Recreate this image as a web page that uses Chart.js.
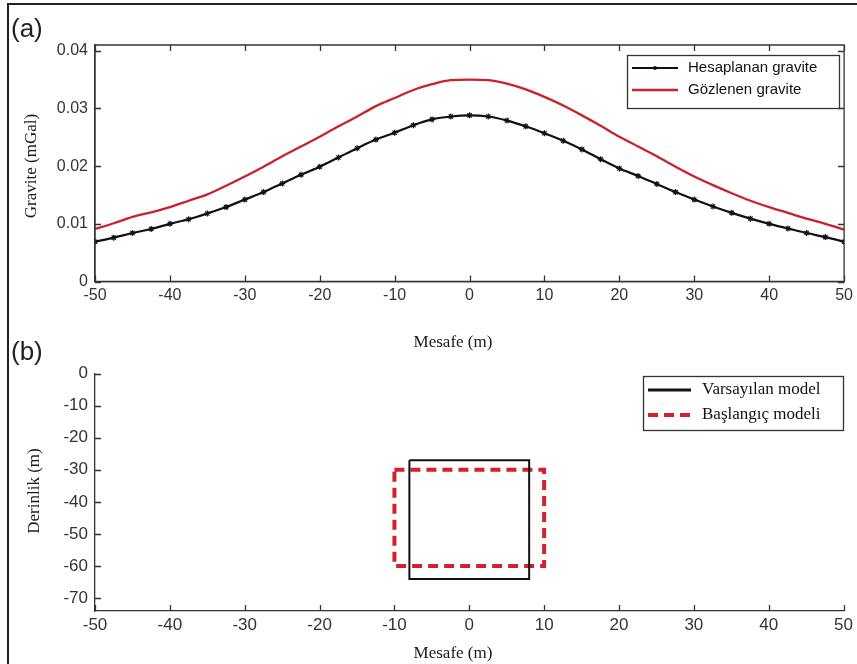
<!DOCTYPE html>
<html>
<head>
<meta charset="utf-8">
<script src="https://cdn.jsdelivr.net/npm/chart.js@4.4.1/dist/chart.umd.min.js"></script>
<style>
html, body { margin: 0; padding: 0; background: #fff; }
body { width: 857px; height: 664px; position: relative; overflow: hidden; }
#frame { position: absolute; left: 7px; top: 3px; width: 900px; height: 700px;
  border-top: 2px solid #222; border-left: 2px solid #222; }
.panel { position: absolute; left: 0; }
#wrapA { top: 0; width: 857px; height: 360px; }
#wrapB { top: 320px; width: 857px; height: 344px; }
.tag { position: absolute; left: 11px; font: 26px "Liberation Sans", Arial, sans-serif; color: #222; line-height: 30px; }
</style>
</head>
<body>
<div id="frame"></div>
<div class="panel" id="wrapA"><canvas id="chartA" width="857" height="360"></canvas></div>
<div class="panel" id="wrapB"><canvas id="chartB" width="857" height="344"></canvas></div>
<div class="tag" style="top:13px">(a)</div>
<div class="tag" style="top:336px">(b)</div>

<script>
// --- data (a): gravity profile ---
const distance = [-50, -47.5, -45, -42.5, -40, -37.5, -35, -32.5, -30, -27.5, -25,
  -22.5, -20, -17.5, -15, -12.5, -10, -7.5, -5, -2.5, 0, 2.5, 5, 7.5, 10, 12.5,
  15, 17.5, 20, 22.5, 25, 27.5, 30, 32.5, 35, 37.5, 40, 42.5, 45, 47.5, 50];

const calculated = [0.0069, 0.0076, 0.0084, 0.0091, 0.0100, 0.0108, 0.0118, 0.0129,
  0.0142, 0.0155, 0.0170, 0.0185, 0.0199, 0.0215, 0.0231, 0.0246, 0.0258, 0.0271,
  0.0281, 0.0286, 0.0288, 0.0286, 0.0279, 0.0269, 0.0257, 0.0244, 0.0229, 0.0212,
  0.0196, 0.0183, 0.0169, 0.0155, 0.0142, 0.0130, 0.0119, 0.0109, 0.0100, 0.0092,
  0.0084, 0.0077, 0.0069];

const observed = [0.0091, 0.0101, 0.0112, 0.0120, 0.0129, 0.0140, 0.0151, 0.0166,
  0.0182, 0.0199, 0.0217, 0.0234, 0.0251, 0.0269, 0.0286, 0.0304, 0.0318, 0.0332,
  0.0342, 0.0349, 0.0350, 0.0349, 0.0343, 0.0333, 0.0320, 0.0305, 0.0288, 0.0270,
  0.0251, 0.0234, 0.0217, 0.0199, 0.0182, 0.0167, 0.0153, 0.0140, 0.0129, 0.0119,
  0.0109, 0.0100, 0.0090];

// --- data (b): model outlines (corners, closed) ---
const assumedX = [-8, 8, 8, -8, -8];
const assumedY = [-27, -27, -64, -64, -27];
const initialX = [-10, 10, 10, -10, -10];
const initialY = [-30, -30, -60, -60, -30];

// tick labels
const xTicks = [-50, -40, -30, -20, -10, 0, 10, 20, 30, 40, 50];
const gravTicks = [0, 0.01, 0.02, 0.03, 0.04];
const depthTicks = [0, -10, -20, -30, -40, -50, -60, -70];

const RED = "#c9222b";
const INK = "#1a1a1a";
const sansFont = "'Liberation Sans', Arial, sans-serif";
const narrowFont = "'Liberation Sans Narrow', 'Liberation Sans', Arial, sans-serif";
const serifFont = "'Liberation Serif', 'Times New Roman', serif";

const toPoints = (xs, ys) => xs.map((x, i) => ({ x: x, y: ys[i] }));

// ticks drawn inward, matlab style
const innerTicks = {
  id: "innerTicks",
  afterDraw(chart, args, opts) {
    const { ctx, chartArea: a, scales } = chart;
    const len = 6;
    ctx.save();
    ctx.strokeStyle = "#333";
    ctx.lineWidth = 1.3;
    ctx.beginPath();
    scales.x.ticks.forEach(t => {
      const px = Math.round(scales.x.getPixelForValue(t.value)) + 0.5;
      ctx.moveTo(px, a.bottom); ctx.lineTo(px, a.bottom - len);
      if (opts.box) { ctx.moveTo(px, a.top); ctx.lineTo(px, a.top + len); }
    });
    scales.y.ticks.forEach(t => {
      const py = Math.round(scales.y.getPixelForValue(t.value)) + 0.5;
      ctx.moveTo(a.left, py); ctx.lineTo(a.left + len, py);
      if (opts.box) { ctx.moveTo(a.right, py); ctx.lineTo(a.right - len, py); }
    });
    if (opts.box) ctx.rect(a.left, a.top, a.right - a.left, a.bottom - a.top);
    ctx.stroke();
    ctx.restore();
  }
};

// axis titles placed where the original figure has them
const axisTitles = {
  id: "axisTitles",
  afterDraw(chart, args, o) {
    const { ctx } = chart;
    ctx.save();
    ctx.fillStyle = INK;
    ctx.font = o.font;
    ctx.textAlign = "center";
    ctx.textBaseline = "middle";
    ctx.fillText(o.xText, o.xPos[0], o.xPos[1]);
    ctx.translate(o.yPos[0], o.yPos[1]);
    ctx.rotate(-Math.PI / 2);
    ctx.fillText(o.yText, 0, 0);
    ctx.restore();
  }
};

// boxed legend in the top right corner
const boxLegend = {
  id: "boxLegend",
  afterDraw(chart, args, o) {
    const { ctx } = chart;
    ctx.save();
    ctx.fillStyle = "#fff";
    ctx.fillRect(o.x, o.y, o.w, o.h);
    ctx.strokeStyle = "#333";
    ctx.lineWidth = 1.3;
    ctx.strokeRect(o.x + 0.5, o.y + 0.5, o.w, o.h);
    chart.data.datasets.forEach((ds, i) => {
      const cy = o.y + o.rowTop + i * o.rowGap;
      ctx.strokeStyle = ds.borderColor;
      ctx.lineWidth = o.lineWidths ? o.lineWidths[i] : ds.borderWidth;
      ctx.setLineDash(ds.borderDash || []);
      ctx.beginPath();
      ctx.moveTo(o.x + o.lineStart, cy);
      ctx.lineTo(o.x + o.lineStart + o.lineLen, cy);
      ctx.stroke();
      ctx.setLineDash([]);
      if (ds.pointRadius > 0) {
        ctx.fillStyle = ds.borderColor;
        ctx.beginPath();
        ctx.arc(o.x + o.lineStart + o.lineLen / 2, cy, 2, 0, Math.PI * 2);
        ctx.fill();
      }
      ctx.fillStyle = "#111";
      ctx.font = o.font;
      ctx.textBaseline = "middle";
      ctx.fillText(ds.label, o.x + o.textStart, cy);
    });
    ctx.restore();
  }
};

function fixedTicks(values) {
  return scale => { scale.ticks = values.map(v => ({ value: v })); };
}

Chart.defaults.animation = false;
Chart.defaults.color = "#333";

new Chart(document.getElementById("chartA"), {
  type: "line",
  data: {
    datasets: [
      {
        label: "Hesaplanan gravite",
        data: toPoints(distance, calculated),
        borderColor: "#111",
        backgroundColor: "#111",
        borderWidth: 2.2,
        pointStyle: "star",
        pointRadius: 3,
        pointBorderWidth: 1.2,
        cubicInterpolationMode: "monotone",
        fill: false,
      },
      {
        label: "Gözlenen gravite",
        data: toPoints(distance, observed),
        borderColor: RED,
        borderWidth: 2.3,
        pointRadius: 0,
        cubicInterpolationMode: "monotone",
        fill: false,
      },
    ],
  },
  options: {
    responsive: false,
    devicePixelRatio: 1,
    layout: { padding: { left: 0, top: 45, right: 11, bottom: 0 } },
    plugins: {
      legend: { display: false },
      tooltip: { enabled: false },
      innerTicks: { box: true },
      axisTitles: {
        xText: "Mesafe (m)", xPos: [453, 343],
        yText: "Gravite (mGal)", yPos: [32, 166],
        font: "17px " + serifFont,
      },
      boxLegend: {
        x: 627, y: 55, w: 212, h: 53, rowTop: 13, rowGap: 22,
        lineStart: 5, lineLen: 46, textStart: 61, lineWidths: [2, 2.5],
        font: "15px " + sansFont,
      },
    },
    scales: {
      x: {
        type: "linear", min: -50, max: 50,
        afterBuildTicks: fixedTicks(xTicks),
        afterFit: s => { s.height = 360 - 281.5; },
        grid: { display: false, drawTicks: false },
        border: { display: true, color: "#333", width: 1.3 },
        ticks: { padding: 4, font: { family: sansFont, size: 16 }, color: "#333" },
      },
      y: {
        min: 0, max: 0.041,
        afterBuildTicks: fixedTicks(gravTicks),
        afterFit: s => { s.width = 95; },
        grid: { display: false, drawTicks: false },
        border: { display: true, color: "#333", width: 1.3 },
        ticks: { padding: 7, font: { family: sansFont, size: 16 }, color: "#333",
          callback: v => (v === 0 ? "0" : v.toFixed(2)) },
      },
    },
  },
  plugins: [innerTicks, axisTitles, boxLegend],
});

new Chart(document.getElementById("chartB"), {
  type: "scatter",
  data: {
    datasets: [
      {
        label: "Varsayılan model",
        data: toPoints(assumedX, assumedY),
        showLine: true,
        borderColor: "#111",
        borderWidth: 2,
        pointRadius: 0,
        tension: 0,
      },
      {
        label: "Başlangıç modeli",
        data: toPoints(initialX, initialY),
        showLine: true,
        borderColor: "#d4202a",
        borderWidth: 4,
        borderDash: [10, 6],
        borderJoinStyle: "miter",
        pointRadius: 0,
        tension: 0,
      },
    ],
  },
  options: {
    responsive: false,
    devicePixelRatio: 1,
    layout: { padding: { left: 0, top: 53.5, right: 11, bottom: 0 } },
    plugins: {
      legend: { display: false },
      tooltip: { enabled: false },
      innerTicks: { box: false },
      axisTitles: {
        xText: "Mesafe (m)", xPos: [453, 334],
        yText: "Derinlik (m)", yPos: [35, 171],
        font: "17px " + serifFont,
      },
      boxLegend: {
        x: 643, y: 56, w: 200, h: 54, rowTop: 14, rowGap: 25,
        lineStart: 5, lineLen: 43, textStart: 59, lineWidths: [3, 4],
        font: "17px " + serifFont,
      },
    },
    scales: {
      x: {
        type: "linear", min: -50, max: 50,
        afterBuildTicks: fixedTicks(xTicks),
        afterFit: s => { s.height = 344 - 291; },
        grid: { display: false, drawTicks: false },
        border: { display: true, color: "#333", width: 1.3 },
        ticks: { padding: 4, font: { family: narrowFont, size: 17 }, color: "#333" },
      },
      y: {
        min: -74, max: 0,
        afterBuildTicks: fixedTicks(depthTicks),
        afterFit: s => { s.width = 95; },
        grid: { display: false, drawTicks: false },
        border: { display: true, color: "#333", width: 1.3 },
        ticks: { padding: 7, font: { family: narrowFont, size: 17 }, color: "#333" },
      },
    },
  },
  plugins: [innerTicks, axisTitles, boxLegend],
});
</script>
</body>
</html>
